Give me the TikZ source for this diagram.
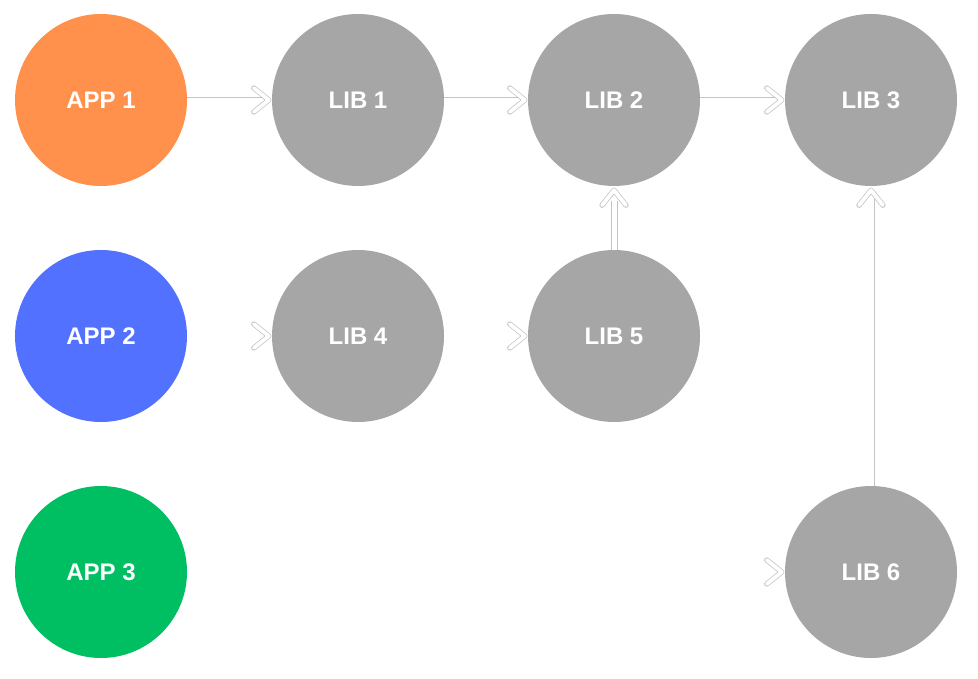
\documentclass[tikz,border=0pt]{standalone}
\usepackage{fontspec}
\setmainfont{Liberation Sans}
\definecolor{appor}{HTML}{FF914D}
\definecolor{appbl}{HTML}{5271FF}
\definecolor{appgr}{HTML}{00BF63}
\definecolor{libgr}{HTML}{A6A6A6}
\definecolor{lnk}{HTML}{C4C4C4}
\tikzset{
  bubble/.style={circle, minimum size=172pt, inner sep=0pt, text=white, font=\fontsize{24}{28}\selectfont\bfseries},
  libnode/.style={bubble, fill=libgr},
  link/.style={draw=lnk, line width=0.8pt},
  hidden/.style={draw=white, line width=0.8pt},
  duo/.style={draw=lnk, line width=1pt, double=white, double distance=5pt},
  chev/.style={draw=lnk, line width=0.75pt, double=white, double distance=3.8pt, line cap=round, line join=round},
}
\newcommand\chevright[1]{\draw[chev] ([shift={(-18pt,12pt)}]#1) -- ([shift={(-3pt,0pt)}]#1) -- ([shift={(-18pt,-12pt)}]#1);}
\newcommand\chevup[1]{\draw[chev] ([shift={(-12pt,-18pt)}]#1) -- ([shift={(0pt,-3pt)}]#1) -- ([shift={(12pt,-18pt)}]#1);}
\begin{document}
\begin{tikzpicture}[x=1pt,y=-1pt]
\useasboundingbox (0,0) rectangle (978,679);
\node[bubble, fill=appor] (a1) at (101,100) {APP 1};
\node[bubble, fill=appbl] (a2) at (101,336) {APP 2};
\node[bubble, fill=appgr] (a3) at (101,572) {APP 3};
\node[libnode] (l1) at (358,100) {LIB 1};
\node[libnode] (l2) at (614,100) {LIB 2};
\node[libnode] (l3) at (871,100) {LIB 3};
\node[libnode] (l4) at (358,336) {LIB 4};
\node[libnode] (l5) at (614,336) {LIB 5};
\node[libnode] (l6) at (871,572) {LIB 6};
\coordinate (t2) at ([yshift=-1pt]l2.south);
\coordinate (t3) at ([yshift=-1pt]l3.south);
% top row connectors
\draw[link] ([yshift=3pt]a1.east) -- ([yshift=3pt,xshift=-6pt]l1.west);
\chevright{l1.west}
\draw[link] ([yshift=3pt]l1.east) -- ([yshift=3pt,xshift=-6pt]l2.west);
\chevright{l2.west}
\draw[link] ([yshift=3pt]l2.east) -- ([yshift=3pt,xshift=-6pt]l3.west);
\chevright{l3.west}
% hidden-line connectors
\draw[hidden] (a2.east) -- ([xshift=-6pt]l4.west);
\chevright{l4.west}
\draw[hidden] (l4.east) -- ([xshift=-6pt]l5.west);
\chevright{l5.west}
\draw[hidden] (a3.east) -- ([xshift=-6pt]l6.west);
\chevright{l6.west}
% vertical connectors
\draw[duo] (l5.north) -- ([yshift=-15pt]l2.south);
\chevup{t2}
\draw[link] ([xshift=3pt]l6.north) -- ([xshift=3pt,yshift=-6pt]l3.south);
\chevup{t3}
\end{tikzpicture}
\end{document}
